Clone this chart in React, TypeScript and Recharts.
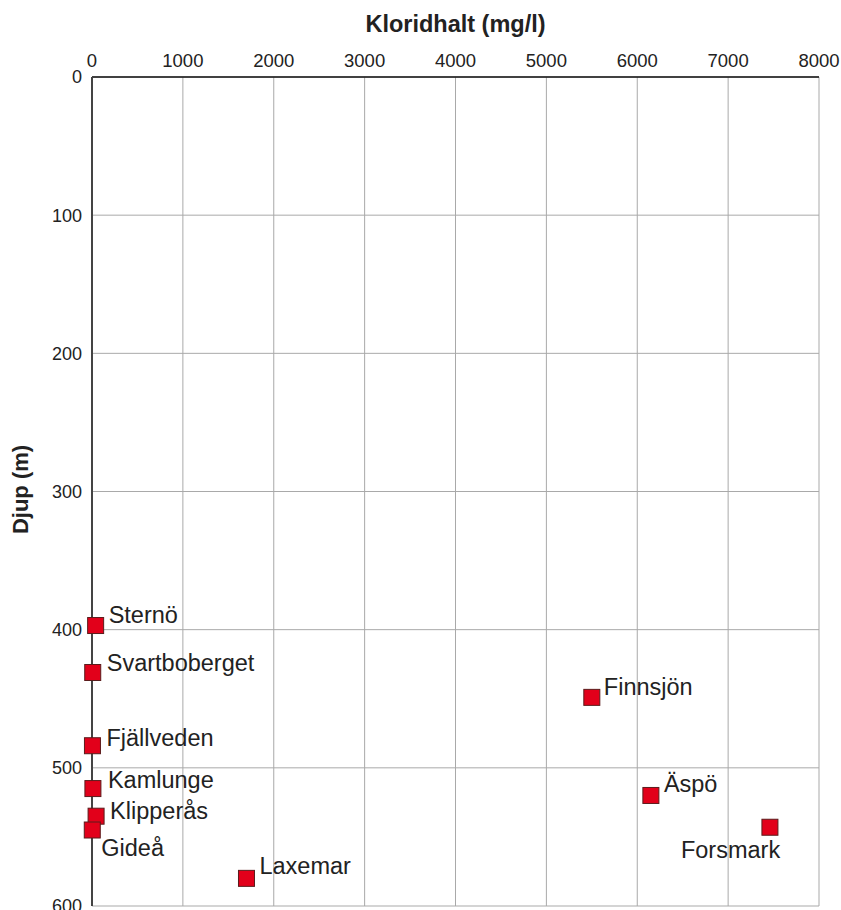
import { ScatterChart, Scatter, XAxis, YAxis, CartesianGrid, Label } from "recharts";

const sites = ["Sternö", "Svartboberget", "Fjällveden", "Kamlunge", "Klipperås", "Gideå", "Laxemar", "Finnsjön", "Äspö", "Forsmark"];
const chloride = [40, 8, 5, 10, 45, 3, 1700, 5500, 6150, 7460];
const depth = [397, 431, 484, 515, 535, 545, 580, 449, 520, 543];

const chlorideTicks = [0, 1000, 2000, 3000, 4000, 5000, 6000, 7000, 8000];
const depthTicks = [0, 100, 200, 300, 400, 500, 600];

const points = sites.map((name, i) => ({ name, x: chloride[i], y: depth[i] }));

// where each site name sits relative to its marker (text start, baseline)
const labelOffset: Record<string, { dx: number; dy: number }> = {
  Sternö: { dx: 13, dy: -3 },
  Svartboberget: { dx: 14, dy: -1 },
  Fjällveden: { dx: 14, dy: 0 },
  Kamlunge: { dx: 15, dy: -1 },
  Klipperås: { dx: 14, dy: 3 },
  Gideå: { dx: 9, dy: 26 },
  Laxemar: { dx: 13, dy: -4 },
  Finnsjön: { dx: 12, dy: -2 },
  Äspö: { dx: 13, dy: -3 },
  Forsmark: { dx: -89, dy: 31 },
};

const FONT = "'Liberation Sans', Arial, sans-serif";

function SiteMarker(props: any) {
  const { cx, cy, payload } = props;
  const off = labelOffset[payload.name] ?? { dx: 14, dy: -1 };
  return (
    <g>
      <rect x={cx - 8} y={cy - 8} width={16} height={16} fill="#e2001a" stroke="#5b1c1c" strokeWidth={1} />
      <text x={cx + off.dx} y={cy + off.dy} fontSize={23.5} fill="#222" fontFamily={FONT}>
        {payload.name}
      </text>
    </g>
  );
}

export default function App() {
  return (
    <div style={{ position: "absolute", left: 0, top: 0, width: 841, height: 910, background: "#fff" }}>
      <ScatterChart
        width={841}
        height={910}
        margin={{ top: 47, right: 22, bottom: 4, left: 42 }}
        style={{ fontFamily: FONT }}
      >
        <CartesianGrid stroke="#a9a9a9" strokeWidth={1} />
        <XAxis
          type="number"
          dataKey="x"
          orientation="top"
          domain={[0, 8000]}
          ticks={chlorideTicks}
          height={30}
          tickLine={false}
          tickSize={8}
          tickMargin={2}
          axisLine={{ stroke: "#111", strokeWidth: 1.5 }}
          tick={{ fontSize: 18.5, fill: "#222" }}
          interval={0}
        >
          <Label
            value="Kloridhalt (mg/l)"
            position="top"
            offset={15}
            style={{ fontSize: 23.5, fontWeight: "bold", fill: "#222" }}
          />
        </XAxis>
        <YAxis
          type="number"
          dataKey="y"
          reversed
          domain={[0, 600]}
          ticks={depthTicks}
          width={50}
          tickLine={false}
          tickSize={8}
          tickMargin={2}
          axisLine={{ stroke: "#444", strokeWidth: 2 }}
          tick={{ fontSize: 18, fill: "#222" }}
          interval={0}
        >
          <Label
            content={(p: any) => {
              const vb = p.viewBox;
              const tx = vb.x - 14;
              const ty = vb.y + vb.height / 2 - 2;
              return (
                <text
                  x={tx}
                  y={ty}
                  transform={`rotate(-90, ${tx}, ${ty})`}
                  textAnchor="middle"
                  fontSize={22}
                  fontWeight="bold"
                  fill="#222"
                  fontFamily={FONT}
                >
                  Djup (m)
                </text>
              );
            }}
          />
        </YAxis>
        <Scatter data={points} shape={SiteMarker} isAnimationActive={false} />
      </ScatterChart>
    </div>
  );
}
